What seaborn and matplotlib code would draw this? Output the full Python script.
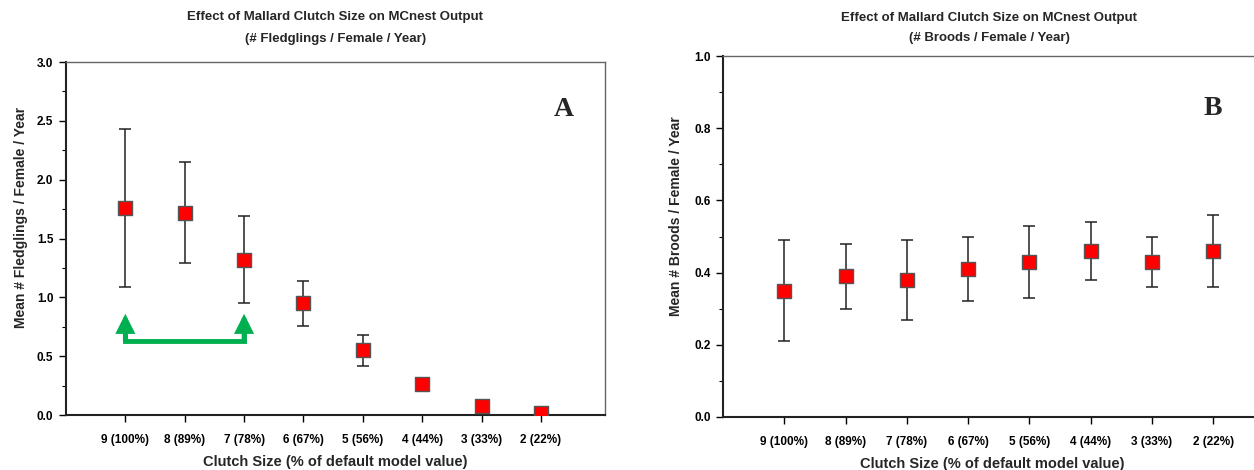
import numpy as np
import pandas as pd
import matplotlib
matplotlib.use("Agg")
import matplotlib.pyplot as plt
from matplotlib.ticker import MultipleLocator
import seaborn as sns

# Data
clutch_labels = ["9 (100%)", "8 (89%)", "7 (78%)", "6 (67%)", "5 (56%)", "4 (44%)", "3 (33%)", "2 (22%)"]

fledge_mean = [1.76, 1.72, 1.32, 0.95, 0.55, 0.26, 0.08, 0.02]
fledge_upper = [2.43, 2.15, 1.69, 1.14, 0.68, 0.26, 0.08, 0.02]
fledge_lower = [1.09, 1.29, 0.95, 0.76, 0.42, 0.26, 0.08, 0.02]

brood_mean = [0.35, 0.39, 0.38, 0.41, 0.43, 0.46, 0.43, 0.46]
brood_upper = [0.49, 0.48, 0.49, 0.50, 0.53, 0.54, 0.50, 0.56]
brood_lower = [0.21, 0.30, 0.27, 0.32, 0.33, 0.38, 0.36, 0.36]

sns.set_theme(style="white")
plt.rcParams["font.family"] = ["Liberation Sans", "DejaVu Sans"]
plt.rcParams["font.weight"] = "bold"

fig = plt.figure(figsize=(12.54, 4.70), dpi=100)
ax_a = fig.add_axes([0.0526, 0.117, 0.4299, 0.751])
ax_b = fig.add_axes([0.5766, 0.1128, 0.4300, 0.768])


def draw_panel(ax, mean, upper, lower, ylim, major, minor, ylabel):
    df = pd.DataFrame({"x": np.arange(len(clutch_labels)), "mean": mean,
                       "upper": upper, "lower": lower})
    yerr = [df["mean"] - df["lower"], df["upper"] - df["mean"]]
    ax.errorbar(df["x"], df["mean"], yerr=yerr, fmt="none", ecolor="#222222",
                elinewidth=1.1, capsize=4, capthick=1.1, zorder=2)
    sns.scatterplot(data=df, x="x", y="mean", marker="s", s=115, color="#ff0000",
                    edgecolor="#555555", linewidth=1.0, ax=ax, zorder=3, legend=False)
    ax.set_ylim(*ylim)
    ax.yaxis.set_major_locator(MultipleLocator(major))
    ax.yaxis.set_minor_locator(MultipleLocator(minor))
    ax.yaxis.set_major_formatter(plt.FormatStrFormatter("%.1f"))
    ax.set_xticks(df["x"])
    ax.set_xticklabels(clutch_labels)
    ax.tick_params(axis="both", which="both", direction="out", left=True, bottom=True,
                   labelsize=8.5, colors="black")
    ax.tick_params(axis="y", which="major", length=5, width=1, pad=4)
    ax.tick_params(axis="y", which="minor", length=3, width=0.8)
    ax.tick_params(axis="x", which="major", length=5, width=1, pad=9)
    for lab in ax.get_xticklabels() + ax.get_yticklabels():
        lab.set_fontweight("bold")
    ax.set_xlabel("Clutch Size (% of default model value)", fontsize=10.5, fontweight="bold", labelpad=6)
    ax.set_ylabel(ylabel, fontsize=10, fontweight="bold")
    for side in ["left", "bottom"]:
        ax.spines[side].set_color("#222222")
        ax.spines[side].set_linewidth(1.5)
    for side in ["top", "right"]:
        ax.spines[side].set_color("#666666")
        ax.spines[side].set_linewidth(1.0)


draw_panel(ax_a, fledge_mean, fledge_upper, fledge_lower, (0, 3.0), 0.5, 0.25,
           "Mean # Fledglings / Female / Year")
ax_a.set_xlim(-1.0, 8.08)
ax_a.yaxis.set_label_coords(-0.070, 0.56)

draw_panel(ax_b, brood_mean, brood_upper, brood_lower, (0, 1.0), 0.2, 0.1,
           "Mean # Broods / Female / Year")
ax_b.set_xlim(-1.0, 7.8)
ax_b.yaxis.set_label_coords(-0.075, 0.557)

# green bracket arrow in panel A
green = "#00b050"
ax_a.plot([0, 0, 2, 2], [0.72, 0.63, 0.63, 0.72], color=green, lw=3.5,
          solid_joinstyle="miter", solid_capstyle="butt", zorder=1)
for xa in [0, 2]:
    ax_a.annotate("", xy=(xa, 0.86), xytext=(xa, 0.63),
                  arrowprops=dict(arrowstyle="-|>,head_width=0.2,head_length=0.4",
                                  mutation_scale=22, color=green, lw=3.5,
                                  shrinkA=0, shrinkB=0, joinstyle="miter"))

ax_a.text(7.38, 2.6, "A", fontsize=20, fontweight="bold", family="Liberation Serif",
          ha="center", va="center")
ax_b.text(7.0, 0.856, "B", fontsize=20, fontweight="bold", family="Liberation Serif",
          ha="center", va="center")

fig.text(0.2675, 0.963, "Effect of Mallard Clutch Size on MCnest Output", ha="center",
         va="center", fontsize=9.5, fontweight="bold")
fig.text(0.2675, 0.918, "(# Fledglings / Female / Year)", ha="center", va="center",
         fontsize=9.5, fontweight="bold")
fig.text(0.789, 0.962, "Effect of Mallard Clutch Size on MCnest Output", ha="center",
         va="center", fontsize=9.5, fontweight="bold")
fig.text(0.789, 0.919, "(# Broods / Female / Year)", ha="center", va="center",
         fontsize=9.5, fontweight="bold")

fig.savefig("out.png", dpi=100)
